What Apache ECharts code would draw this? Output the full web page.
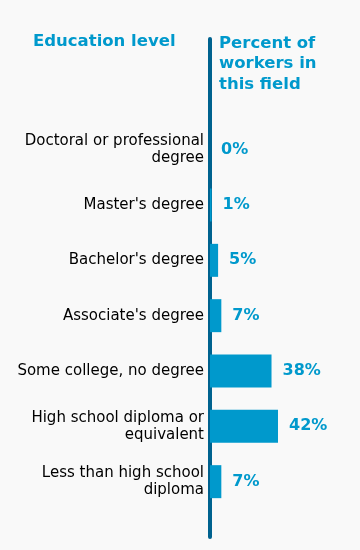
<!DOCTYPE html>
<html>
<head>
<meta charset="utf-8">
<script src="https://cdn.jsdelivr.net/npm/echarts@6/dist/echarts.min.js"></script>
<style>
html,body{margin:0;padding:0;background:#f9f9f9;}
#c{width:360px;height:550px;}
</style>
</head>
<body>
<div id="c"></div>
<script>
var categories = [
  "Doctoral or professional\ndegree",
  "Master's degree",
  "Bachelor's degree",
  "Associate's degree",
  "Some college, no degree",
  "High school diploma or\nequivalent",
  "Less than high school\ndiploma"
];
var percents = [0, 1, 5, 7, 38, 42, 7];
var leftHeader = "Education level";
var rightHeader = "Percent of\nworkers in\nthis field";

// pad the axis so the line runs from the header down past the last bar
var axisData = ["", ""].concat(categories).concat([""]);
var seriesData = [null, null].concat(percents).concat([null]);

var FONT = "'DejaVu Sans', Verdana, sans-serif";
var chart = echarts.init(document.getElementById('c'), null, {renderer: 'canvas'});
chart.setOption({
  backgroundColor: '#f9f9f9',
  animation: false,
  title: [
    {
      text: leftHeader, left: 28, top: 28, padding: 5,
      textStyle: {fontFamily: FONT, fontWeight: 'bold', fontSize: 16.5, color: '#0099cc'}
    },
    {
      text: rightHeader, left: 214, top: 28, padding: 5,
      textStyle: {fontFamily: FONT, fontWeight: 'bold', fontSize: 16.5, color: '#0099cc', lineHeight: 20.5}
    }
  ],
  grid: {left: 210, right: 4.3, top: 39, bottom: 13, containLabel: false},
  xAxis: {type: 'value', min: 0, max: 90, show: false},
  yAxis: {
    type: 'category',
    inverse: true,
    boundaryGap: false,
    data: axisData,
    axisLine: {show: true, lineStyle: {color: '#00628f', width: 4}},
    axisTick: {show: false},
    splitLine: {show: false},
    axisLabel: {
      interval: 0, margin: 6, color: '#000', fontFamily: FONT,
      fontSize: 15, lineHeight: 16.6, align: 'right'
    }
  },
  series: [{
    type: 'bar',
    data: seriesData,
    barWidth: 33,
    itemStyle: {color: '#0099cc'},
    z: 1,
    label: {
      show: true, position: 'right', distance: 11,
      formatter: function(p){ return p.value == null ? '' : p.value + '%'; },
      fontFamily: FONT, fontWeight: 'bold', fontSize: 16, color: '#0099cc'
    }
  }]
});
</script>
</body>
</html>
